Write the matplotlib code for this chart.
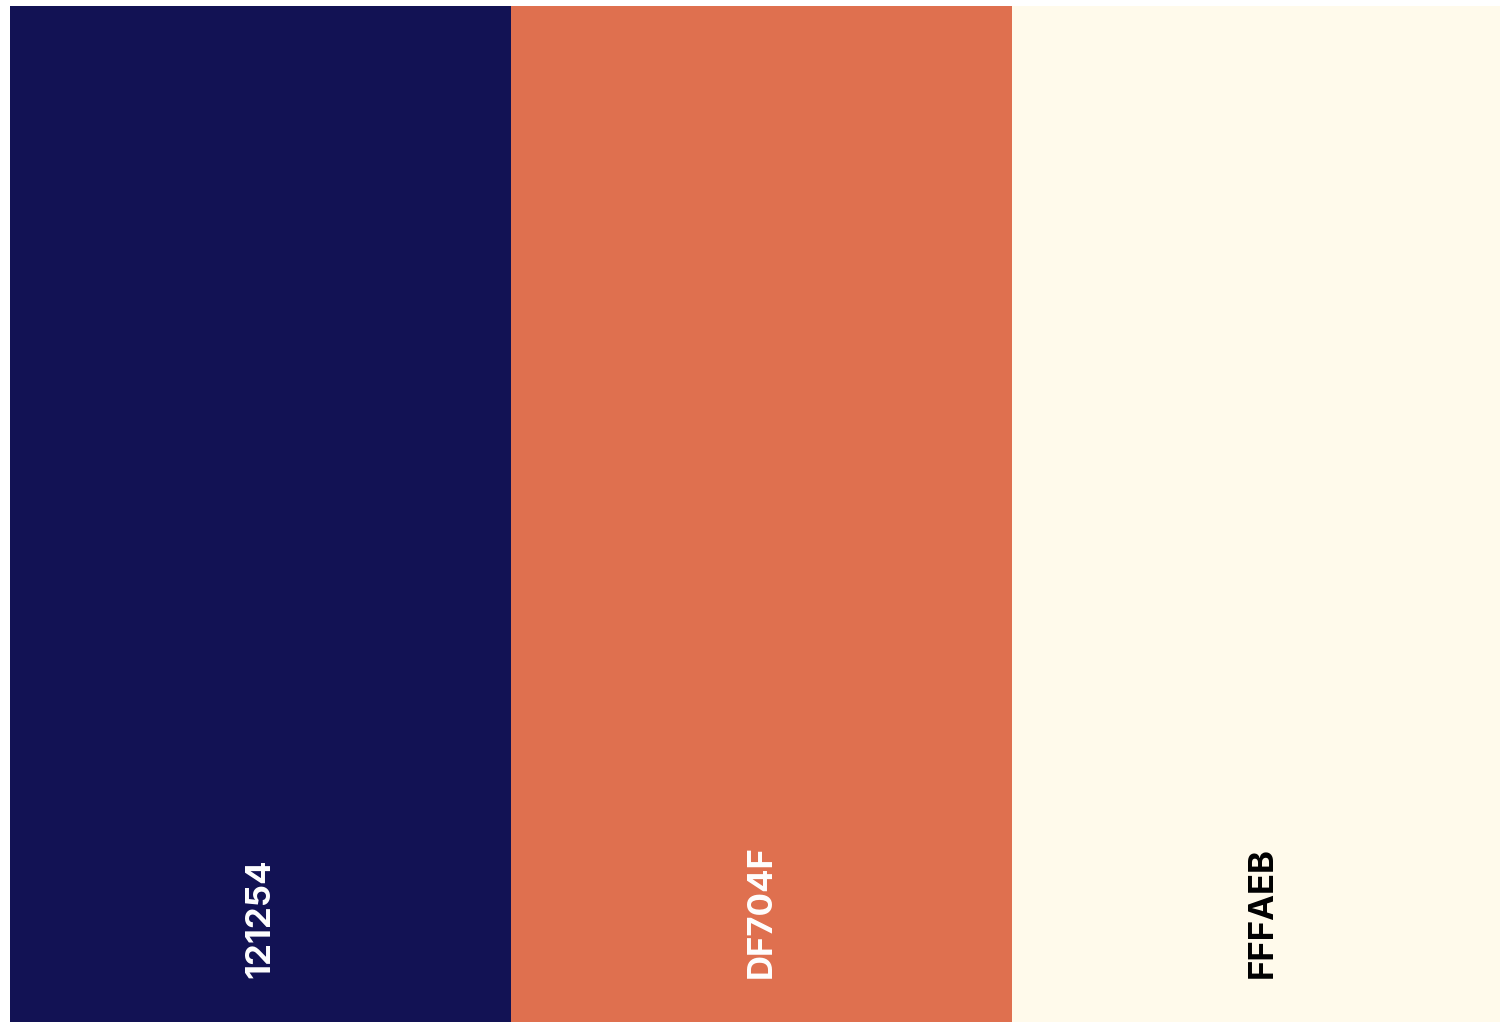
import matplotlib
matplotlib.use("Agg")
import matplotlib.pyplot as plt

# palette swatches
hex_codes = ["121254", "DF704F", "FFFAEB"]
label_colors = ["white", "white", "black"]

fig = plt.figure(figsize=(15, 10.22), dpi=100)
fig.patch.set_facecolor("white")

# swatches start at x=10px, y=6px from top
ax = fig.add_axes([10 / 1500, 0, 1490 / 1500, 1016 / 1022])
positions = list(range(len(hex_codes)))
ax.bar(positions, [1] * len(hex_codes), width=1.0,
       color=["#" + h for h in hex_codes], align="center", linewidth=0)

for x, code, tc in zip(positions, hex_codes, label_colors):
    ax.text(x, 0.043, code, rotation=90, ha="center", va="bottom",
            color=tc, fontsize=25, fontweight="bold", family="Inter")

ax.set_xlim(-0.5, -0.5 + 1490 / 501)
ax.set_ylim(0, 1)
ax.axis("off")

fig.savefig("out.png", dpi=100)
